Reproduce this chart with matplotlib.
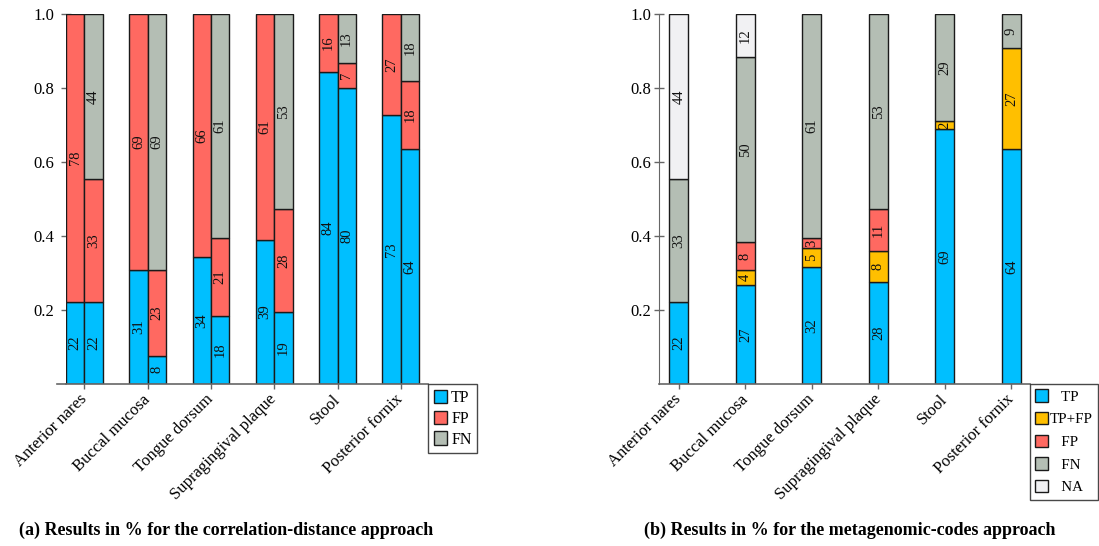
import matplotlib

matplotlib.use("Agg")
import matplotlib.pyplot as plt
from matplotlib.patches import Patch

SITES = ["Anterior nares", "Buccal mucosa", "Tongue dorsum",
         "Supragingival plaque", "Stool", "Posterior fornix"]

# (a) correlation-distance approach, percentages per site
A1_TP = [22.2, 30.8, 34.2, 38.9, 84.4, 72.7]
A1_FP = [77.8, 69.2, 65.8, 61.1, 15.6, 27.3]
A2_TP = [22.2, 7.7, 18.4, 19.4, 80.0, 63.6]
A2_FP = [33.3, 23.1, 21.0, 27.8, 6.7, 18.2]
A2_FN = [44.4, 69.2, 60.6, 52.8, 13.3, 18.2]

# (b) metagenomic-codes approach
B_TP = [22.2, 26.8, 31.6, 27.7, 68.8, 63.6]
B_TPFP = [0, 3.9, 5.1, 8.3, 2.3, 27.2]
B_FP = [0, 7.7, 2.7, 11.2, 0, 0]
B_FN = [33.3, 50.0, 60.6, 52.8, 28.9, 9.2]
B_NA = [44.4, 11.6, 0, 0, 0, 0]

TP_C = "#00bfff"
TPFP_C = "#ffbf00"
FP_C = "#ff6961"
FN_C = "#b4beb4"
NA_C = "#f1f1f3"
EDGE = "#1a1a1a"
AXC = "#666666"

plt.rcParams.update({
    "font.family": ["Liberation Serif", "DejaVu Serif"],
    "font.size": 12,
})

fig = plt.figure(figsize=(10.99, 5.46), dpi=100)
# left panel: y axis sits on the first bar's edge, like the source
ax_a = fig.add_axes([66 / 1099, 162 / 546, 362 / 1099, 370 / 546])
ax_b = fig.add_axes([659 / 1099, 162 / 546, 371 / 1099, 370 / 546])


def stack(ax, xs, series, colors, width):
    bottom = [0.0] * len(xs)
    for vals, col in zip(series, colors):
        for i, (x, v) in enumerate(zip(xs, vals)):
            if v <= 0:
                continue
            h = v / 100
            ax.bar(x, h, width, bottom=bottom[i], color=col,
                   edgecolor=EDGE, linewidth=1.0, zorder=2)
            ax.text(x, bottom[i] + h / 2, f"{v:.0f}", rotation=90,
                    ha="center", va="center", fontsize=10.5, color="#111111",
                    zorder=3)
            bottom[i] += h


def style(ax, xlim, show_left, ypad):
    ax.set_ylim(0, 1)
    ax.set_xlim(*xlim)
    ax.set_yticks([0.2, 0.4, 0.6, 0.8, 1.0], ["0.2", "0.4", "0.6", "0.8", "1.0"])
    ax.set_xticks(range(len(SITES)))
    ax.set_xticklabels(SITES, rotation=45, ha="right", va="center",
                       rotation_mode="anchor")
    ax.tick_params(direction="inout", color=AXC, length=7, width=1)
    ax.tick_params(axis="x", pad=6)
    ax.tick_params(axis="y", pad=ypad)
    for s in ("top", "right"):
        ax.spines[s].set_visible(False)
    ax.spines["left"].set_visible(show_left)
    ax.spines["left"].set_color(AXC)
    ax.spines["bottom"].set_color(AXC)
    ax.spines["bottom"].set_linewidth(1.2)


w = 0.29
xs = list(range(len(SITES)))
stack(ax_a, [x - w / 2 for x in xs], [A1_TP, A1_FP], [TP_C, FP_C], w)
stack(ax_a, [x + w / 2 for x in xs], [A2_TP, A2_FP, A2_FN], [TP_C, FP_C, FN_C], w)
style(ax_a, (-w, 5.43), False, 5)
# bottom axis line runs a little past the left edge in the source
ax_a.plot([-9 / 362, 0], [0, 0], transform=ax_a.transAxes, color=AXC,
          linewidth=1.2, clip_on=False, zorder=1)

stack(ax_b, xs, [B_TP, B_TPFP, B_FP, B_FN, B_NA],
      [TP_C, TPFP_C, FP_C, FN_C, NA_C], 0.286)
style(ax_b, (-0.30, 5.28), True, 2)

leg_kw = dict(loc="upper left", bbox_to_anchor=(1.0, 0.0), frameon=True,
              fancybox=False, edgecolor=EDGE, handlelength=0.85,
              handleheight=0.9, handletextpad=0.25, labelspacing=0.3,
              borderpad=0.35, borderaxespad=0, fontsize=11.5)

ha = [Patch(facecolor=c, edgecolor=EDGE) for c in (TP_C, FP_C, FN_C)]
leg = ax_a.legend(ha, ["TP", "FP", "FN"], **leg_kw)
leg.get_frame().set_linewidth(1.0)

hb = [Patch(facecolor=c, edgecolor=EDGE)
      for c in (TP_C, TPFP_C, FP_C, FN_C, NA_C)]
leg = ax_b.legend(hb, ["   TP", "TP+FP", "   FP", "   FN", "   NA"],
                  **{**leg_kw, "fontsize": 10.8, "handletextpad": 0.1,
                     "labelspacing": 0.55, "borderpad": 0.35})
leg.get_frame().set_linewidth(1.0)

fig.text(226 / 1099, 1 - 530 / 546,
         "(a) Results in % for the correlation-distance approach",
         ha="center", va="center", fontsize=13, fontweight="bold")
fig.text(850 / 1099, 1 - 530 / 546,
         "(b) Results in % for the metagenomic-codes approach",
         ha="center", va="center", fontsize=13, fontweight="bold")

fig.savefig("out.png", dpi=100)
